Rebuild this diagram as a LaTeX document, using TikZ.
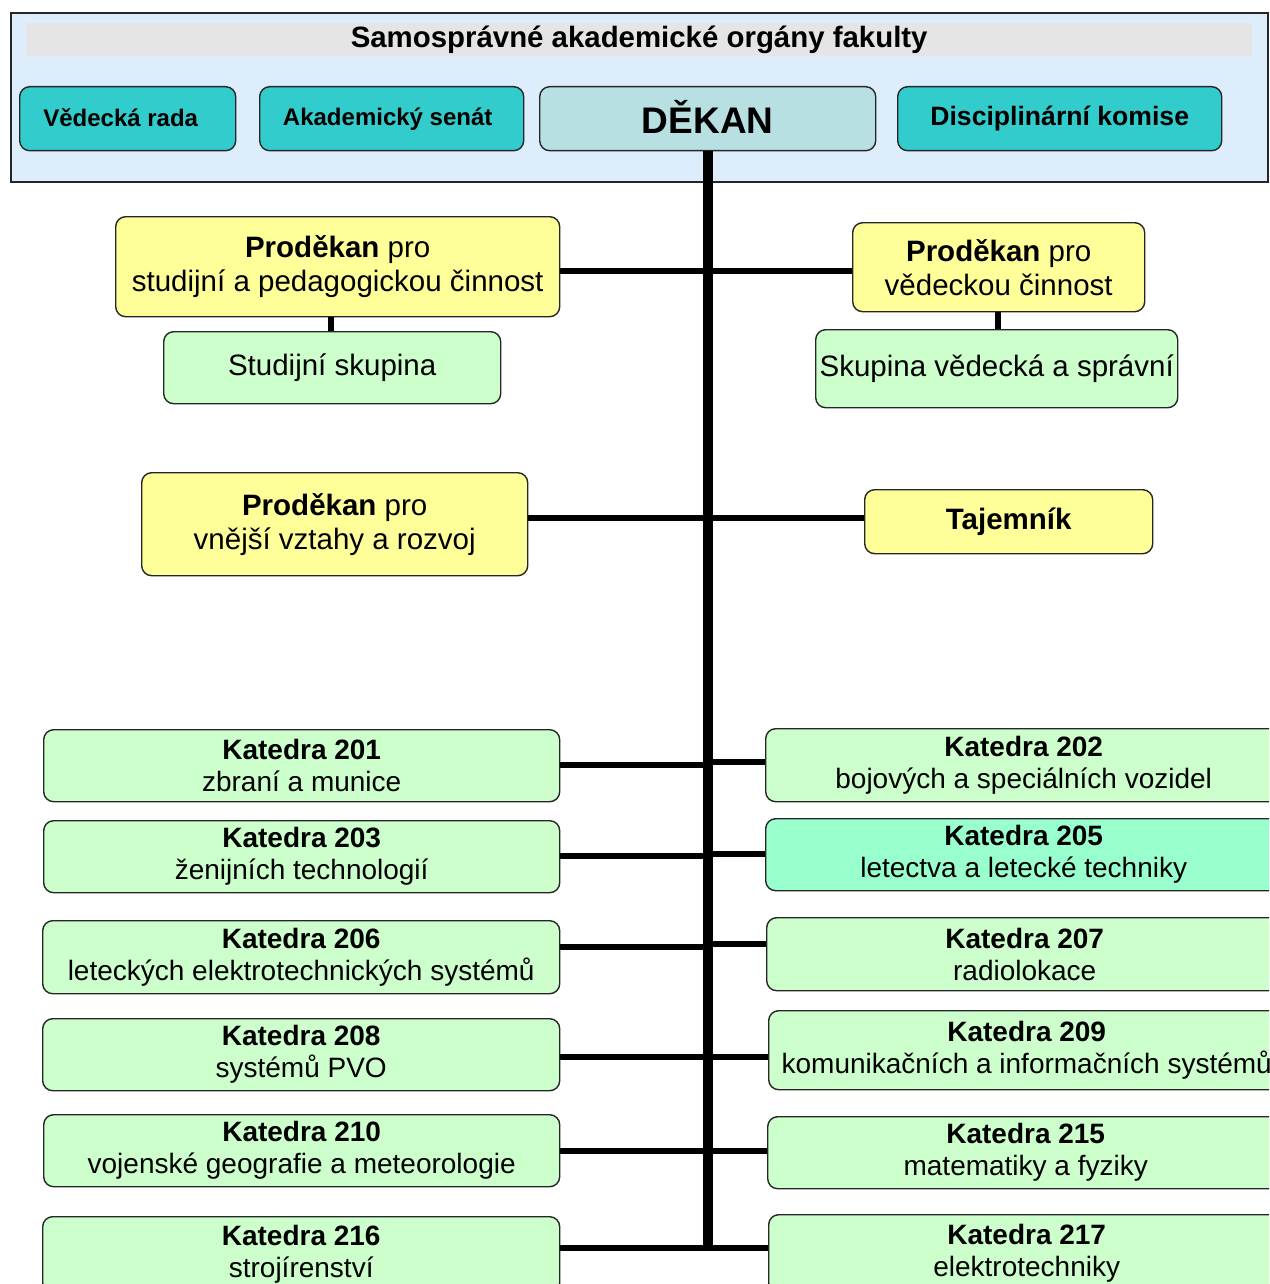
\documentclass[tikz,border=0pt]{standalone}
\usepackage{fontspec}
\setmainfont{Liberation Sans}
\definecolor{orgblue}{HTML}{DDEDFC}
\definecolor{hdrgray}{HTML}{E5E5E5}
\definecolor{teal1}{HTML}{33CCCC}
\definecolor{dekcol}{HTML}{B8E0E2}
\definecolor{yel}{HTML}{FFFF99}
\definecolor{grn}{HTML}{CCFFCC}
\definecolor{mint}{HTML}{99FFCC}
\begin{document}
\begin{tikzpicture}[x=1pt,y=-1pt,
  box/.style={draw=black!85,line width=1.4pt,rounded corners=10pt,inner sep=0pt,align=center,anchor=north west,text=black},
  teal box/.style={box,fill=teal1,font=\fontsize{24}{28}\selectfont\bfseries},
  yel box/.style={box,fill=yel,font=\fontsize{29.5}{34}\selectfont},
  grn box/.style={box,fill=grn,font=\fontsize{29.5}{34}\selectfont},
  kat box/.style={box,fill=grn,font=\fontsize{28}{32}\selectfont},
  conn/.style={line width=6pt,black},
  trunkline/.style={line width=10pt,black}]
\clip (0,0) rectangle (1269,1284);
\fill[white] (0,0) rectangle (1269,1284);
% top frame
\node[draw=black!85,line width=2pt,fill=orgblue,inner sep=0pt,anchor=north west,minimum width=1257pt,minimum height=169pt] (org) at (10,12) {};
\node[fill=hdrgray,inner sep=0pt,anchor=north west,minimum width=1226pt,minimum height=33pt,font=\fontsize{29.4}{32}\selectfont\bfseries] (hdr) at (26,23) {\raisebox{-2pt}{Samosprávné akademické orgány fakulty}};
\node[teal box,minimum width=216pt,minimum height=64pt] (vr) at (19,86) {\kern-14pt\raisebox{3pt}{Vědecká rada}};
\node[teal box,minimum width=264pt,minimum height=64pt] (as) at (259,86) {\kern-8pt\raisebox{3pt}{Akademický senát}};
\node[box,fill=dekcol,minimum width=336pt,minimum height=64pt,font=\fontsize{37}{40}\selectfont\bfseries] (dek) at (539,86) {\raisebox{3pt}{DĚKAN}};
\node[teal box,minimum width=324pt,minimum height=64pt,font=\fontsize{26.6}{30}\selectfont\bfseries] (dk) at (897,86) {\raisebox{2pt}{Disciplinární komise}};
% trunk
\coordinate (tt) at (dek.south);
\draw[trunkline] (dek.south) -- (tt |- 0,1249);
% vice-deans
\node[yel box,minimum width=444pt,minimum height=100pt] (ps) at (115,216) {\textbf{Proděkan} pro\\studijní a pedagogickou činnost};
\node[grn box,minimum width=337pt,minimum height=72pt] (ss) at (163,331) {Studijní skupina};
\node[yel box,minimum width=292pt,minimum height=89pt] (pv) at (852,222) {\textbf{Proděkan} pro\\vědeckou činnost};
\node[grn box,minimum width=362pt,minimum height=78pt] (sv) at (815,329) {Skupina vědecká a správní};
\node[yel box,minimum width=386pt,minimum height=103pt] (pr) at (141,472) {\textbf{Proděkan} pro\\vnější vztahy a rozvoj};
\node[yel box,minimum width=288pt,minimum height=64pt] (taj) at (864,489) {\textbf{Tajemník}};
\draw[conn] (ps.east |- 0,271) -- (pv.west |- 0,271);
\draw[conn] (ps.south -| 331,0) -- (ss.north -| 331,0);
\draw[conn] (pv.south -| 998,0) -- (sv.north -| 998,0);
\draw[conn] (pr.east |- 0,518) -- (taj.west |- 0,518);
% departments
\node[kat box,minimum width=516pt,minimum height=72pt] (k201) at (43,729) {\textbf{Katedra 201}\\zbraní a munice};
\node[kat box,minimum width=516pt,minimum height=73pt] (k202) at (765,728) {\textbf{Katedra 202}\\bojových a speciálních vozidel};
\node[kat box,minimum width=516pt,minimum height=72pt] (k203) at (43,820) {\textbf{Katedra 203}\\ženijních technologií};
\node[kat box,fill=mint,minimum width=516pt,minimum height=72pt] (k205) at (765,818) {\textbf{Katedra 205}\\letectva a letecké techniky};
\node[kat box,minimum width=517pt,minimum height=73pt] (k206) at (42,920) {\textbf{Katedra 206}\\leteckých elektrotechnických systémů};
\node[kat box,minimum width=516pt,minimum height=73pt] (k207) at (766,917) {\textbf{Katedra 207}\\radiolokace};
\node[kat box,minimum width=517pt,minimum height=72pt] (k208) at (42,1018) {\textbf{Katedra 208}\\systémů PVO};
\node[kat box,minimum width=516pt,minimum height=79pt] (k209) at (768,1010) {\textbf{Katedra 209}\\komunikačních a informačních systémů};
\node[kat box,minimum width=516pt,minimum height=72pt] (k210) at (43,1114) {\textbf{Katedra 210}\\vojenské geografie a meteorologie};
\node[kat box,minimum width=516pt,minimum height=72pt] (k215) at (767,1116) {\textbf{Katedra 215}\\matematiky a fyziky};
\node[kat box,minimum width=517pt,minimum height=76pt] (k216) at (42,1216) {\textbf{Katedra 216}\\strojírenství};
\node[kat box,minimum width=516pt,minimum height=78pt] (k217) at (768,1214) {\textbf{Katedra 217}\\elektrotechniky};
\draw[conn] (k201.east |- 0,765) -- (tt |- 0,765);
\draw[conn] (k202.west |- 0,762) -- (tt |- 0,762);
\draw[conn] (k203.east |- 0,856) -- (tt |- 0,856);
\draw[conn] (k205.west |- 0,854) -- (tt |- 0,854);
\draw[conn] (k206.east |- 0,947) -- (tt |- 0,947);
\draw[conn] (k207.west |- 0,944) -- (tt |- 0,944);
\draw[conn] (k208.east |- 0,1057) -- (tt |- 0,1057);
\draw[conn] (k209.west |- 0,1057) -- (tt |- 0,1057);
\draw[conn] (k210.east |- 0,1151) -- (tt |- 0,1151);
\draw[conn] (k215.west |- 0,1151) -- (tt |- 0,1151);
\draw[conn] (k216.east |- 0,1248) -- (tt |- 0,1248);
\draw[conn] (k217.west |- 0,1248) -- (tt |- 0,1248);
\end{tikzpicture}
\end{document}
